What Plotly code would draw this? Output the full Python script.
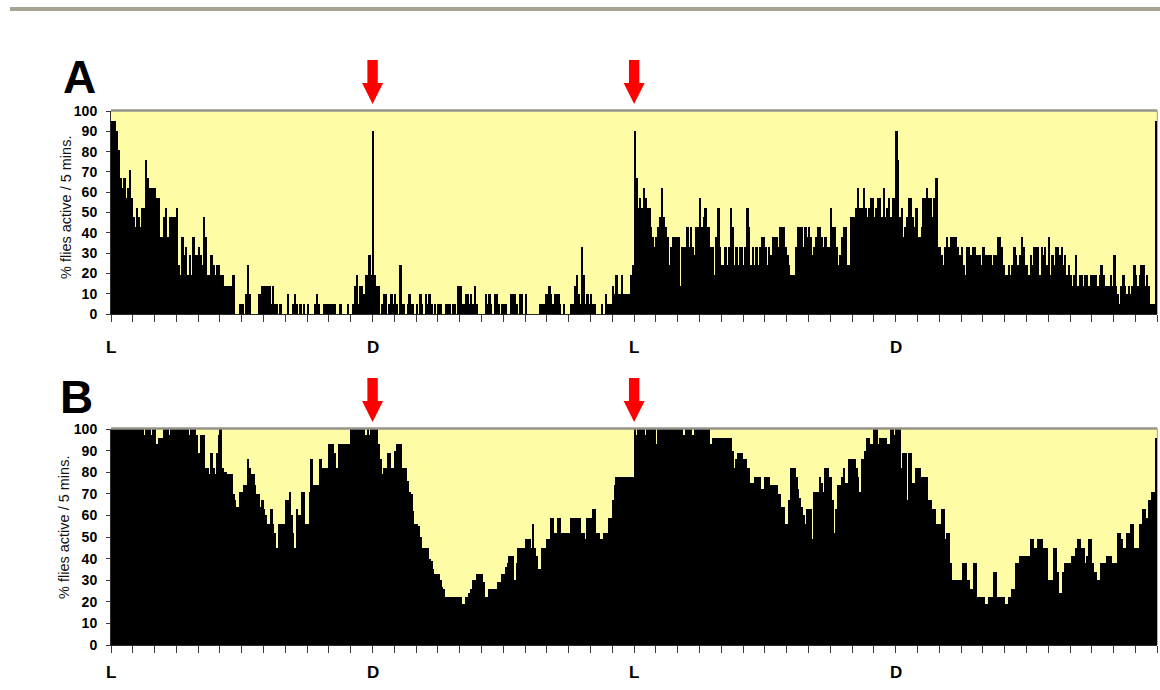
import plotly.graph_objects as go

# ---------------- data (percent of flies active per 5-min bin; 12 bins per hour, 48 h) -------------
activity_a = [
    95, 95, 95, 90, 81, 67, 62, 67, 57, 62, 71, 57,   # h0  (L)
    48, 43, 52, 48, 43, 52, 52, 76, 67, 62, 62, 62,
    62, 57, 57, 38, 38, 48, 52, 38, 48, 48, 48, 48,
    52, 24, 19, 38, 29, 33, 19, 29, 19, 38, 29, 29,
    33, 29, 24, 48, 38, 19, 19, 29, 24, 19, 24, 24,
    19, 19, 14, 14, 14, 14, 14, 19, 0, 0, 0, 5,
    5, 0, 10, 24, 10, 0, 0, 0, 0, 10, 10, 14,
    14, 14, 14, 14, 5, 14, 5, 5, 0, 5, 0, 0,
    0, 10, 0, 0, 5, 10, 5, 0, 5, 0, 5, 0,
    5, 0, 0, 0, 5, 10, 5, 0, 0, 5, 5, 5,
    5, 5, 5, 5, 0, 0, 5, 0, 0, 0, 5, 0,
    0, 5, 14, 19, 5, 14, 14, 10, 19, 19, 29, 19,
    90, 19, 14, 14, 0, 5, 10, 10, 0, 5, 10, 5,       # h12 (D)
    10, 5, 0, 24, 5, 5, 0, 5, 10, 5, 5, 0,
    5, 0, 10, 5, 0, 10, 5, 10, 5, 0, 5, 0,
    5, 5, 0, 0, 5, 5, 5, 0, 5, 5, 0, 14,
    14, 5, 5, 10, 10, 5, 10, 5, 14, 5, 0, 0,
    0, 0, 10, 5, 10, 5, 0, 10, 10, 5, 0, 5,
    5, 5, 0, 0, 10, 10, 10, 5, 0, 10, 10, 0,
    10, 0, 0, 0, 0, 0, 0, 0, 5, 5, 5, 10,
    10, 14, 10, 5, 10, 10, 10, 5, 0, 5, 0, 0,
    0, 5, 5, 14, 19, 10, 5, 33, 19, 5, 10, 5,
    10, 5, 5, 0, 0, 0, 5, 0, 10, 5, 5, 5,
    14, 10, 19, 10, 10, 19, 10, 10, 10, 10, 19, 24,
    90, 67, 52, 57, 52, 62, 57, 52, 52, 43, 38, 33,  # h24 (L)
    38, 43, 48, 62, 48, 43, 38, 24, 33, 38, 38, 38,
    38, 14, 33, 33, 33, 43, 33, 43, 33, 29, 43, 43,
    57, 43, 48, 52, 43, 43, 33, 33, 19, 38, 52, 33,
    24, 24, 33, 24, 33, 52, 43, 24, 33, 24, 33, 33,
    24, 33, 52, 43, 24, 33, 24, 33, 24, 33, 38, 38,
    33, 24, 33, 29, 38, 38, 38, 33, 43, 43, 43, 33,
    29, 24, 19, 19, 19, 33, 43, 43, 43, 33, 43, 38,
    43, 38, 29, 33, 38, 43, 43, 38, 33, 38, 33, 33,
    52, 43, 43, 33, 24, 29, 38, 43, 43, 24, 24, 48,
    48, 48, 52, 62, 52, 52, 62, 52, 48, 52, 57, 57,
    48, 52, 57, 57, 48, 62, 48, 52, 57, 48, 57, 57,
    90, 76, 48, 52, 38, 43, 48, 57, 57, 48, 43, 52,  # h36 (D)
    38, 38, 43, 57, 57, 62, 57, 57, 48, 57, 67, 33,
    33, 29, 24, 33, 38, 33, 38, 38, 38, 38, 33, 29,
    33, 24, 19, 33, 33, 29, 33, 33, 29, 29, 29, 24,
    33, 29, 29, 29, 29, 24, 29, 29, 38, 38, 33, 24,
    19, 19, 24, 19, 24, 33, 29, 24, 29, 38, 33, 24,
    24, 19, 29, 24, 33, 33, 33, 19, 33, 29, 33, 24,
    38, 19, 29, 24, 33, 33, 29, 33, 24, 29, 19, 24,
    19, 14, 19, 29, 14, 19, 19, 14, 19, 19, 14, 19,
    19, 19, 19, 14, 19, 24, 19, 14, 14, 14, 19, 14,
    29, 14, 10, 5, 14, 19, 14, 10, 14, 10, 14, 24,
    19, 14, 19, 24, 24, 14, 19, 14, 5, 5, 5, 95,
]

activity_b = [
    100, 100, 100, 100, 100, 100, 100, 100, 100, 100, 100, 100,  # h0 (L)
    100, 100, 100, 100, 100, 100, 97, 100, 100, 100, 97, 100,
    100, 93, 96, 96, 96, 100, 100, 100, 97, 100, 100, 100,
    100, 100, 100, 100, 100, 100, 100, 97, 100, 100, 100, 97,
    89, 97, 97, 97, 82, 82, 79, 89, 82, 79, 89, 97,
    100, 82, 80, 80, 79, 79, 79, 70, 67, 64, 64, 71,
    71, 74, 74, 86, 82, 79, 79, 74, 70, 70, 64, 67,
    63, 60, 56, 56, 63, 56, 52, 45, 56, 56, 56, 56,
    67, 67, 71, 60, 52, 45, 63, 60, 60, 71, 71, 56,
    56, 71, 86, 74, 74, 74, 74, 86, 82, 82, 82, 82,
    93, 93, 93, 89, 82, 93, 93, 93, 93, 93, 93, 93,
    100, 100, 100, 100, 100, 100, 100, 100, 97, 100, 97, 100,
    100, 100, 100, 93, 86, 79, 82, 82, 89, 89, 82, 82,           # h12 (D)
    90, 93, 93, 93, 82, 82, 82, 76, 71, 70, 62, 56,
    56, 55, 50, 45, 45, 45, 45, 40, 39, 35, 33, 33,
    33, 30, 27, 26, 22, 22, 22, 22, 22, 22, 22, 22,
    22, 19, 19, 22, 22, 24, 26, 30, 30, 33, 33, 33,
    33, 29, 22, 22, 26, 26, 26, 26, 26, 29, 29, 33,
    33, 36, 38, 41, 41, 41, 30, 38, 45, 45, 45, 45,
    49, 49, 49, 45, 56, 45, 41, 35, 35, 45, 45, 45,
    49, 49, 59, 59, 52, 52, 59, 59, 52, 52, 52, 52,
    52, 59, 59, 59, 59, 59, 59, 52, 52, 49, 59, 59,
    59, 63, 63, 52, 52, 49, 49, 52, 52, 52, 59, 59,
    67, 74, 78, 78, 78, 78, 78, 78, 78, 78, 78, 78,
    100, 97, 100, 100, 100, 100, 97, 100, 100, 100, 100, 100,    # h24 (L)
    93, 100, 100, 100, 100, 100, 100, 100, 100, 100, 100, 100,
    100, 100, 100, 97, 100, 100, 100, 100, 97, 100, 100, 100,
    100, 100, 100, 100, 100, 100, 93, 96, 96, 96, 96, 96,
    96, 96, 96, 96, 96, 96, 90, 82, 86, 89, 89, 89,
    86, 86, 82, 82, 75, 75, 78, 78, 78, 78, 72, 72,
    78, 78, 78, 74, 74, 74, 74, 70, 70, 64, 64, 56,
    56, 67, 82, 82, 82, 78, 72, 68, 64, 60, 56, 63,
    63, 63, 49, 71, 71, 71, 78, 75, 71, 82, 82, 78,
    78, 67, 52, 63, 74, 74, 78, 82, 75, 75, 86, 86,
    86, 86, 82, 78, 71, 86, 86, 90, 96, 96, 93, 93,
    100, 100, 93, 96, 96, 96, 96, 93, 93, 100, 100, 97,
    100, 100, 100, 82, 89, 89, 67, 89, 89, 75, 75, 82,           # h36 (D)
    82, 82, 78, 78, 78, 78, 67, 67, 63, 63, 56, 56,
    56, 63, 63, 49, 52, 52, 38, 30, 30, 30, 30, 30,
    30, 38, 38, 30, 30, 26, 26, 38, 38, 22, 22, 22,
    22, 19, 19, 22, 22, 22, 34, 34, 22, 22, 22, 22,
    19, 19, 22, 22, 26, 26, 38, 38, 41, 41, 41, 41,
    41, 41, 49, 49, 45, 45, 49, 49, 49, 45, 45, 45,
    30, 30, 30, 45, 45, 34, 24, 24, 34, 38, 38, 38,
    38, 41, 41, 45, 49, 49, 45, 45, 38, 41, 49, 49,
    38, 34, 34, 30, 30, 38, 38, 38, 41, 41, 41, 38,
    38, 38, 52, 52, 49, 45, 45, 52, 52, 56, 56, 45,
    45, 45, 56, 56, 63, 63, 59, 67, 67, 71, 71, 96,
]

bins_per_hour = 12
n_hours = 48
hour_ticks = list(range(0, n_hours * bins_per_hour + 1, bins_per_hour))
y_ticks = list(range(0, 101, 10))
phase_labels = ["L", "D", "L", "D"]
phase_bins = [0, 144, 288, 432]
arrow_bins = [144, 288]
panel_labels = ["A", "B"]
y_title = "% flies active / 5 mins."

# ---------------- figure ----------------
W, H = 1160, 690
FONT = "Liberation Sans, Arial, Helvetica, sans-serif"
x_dom = [111 / W, 1157.3 / W]


def py(pix):
    return (H - pix) / H


panels = [
    dict(data=activity_a, xa="x", ya="y", top=111, bot=314, arrow_tip=104, lab_y=347,
         letter=(79, 76.5), ytitle_y=208, ytitle_x=66),
    dict(data=activity_b, xa="x2", ya="y2", top=429, bot=645, arrow_tip=422, lab_y=672,
         letter=(76, 397), ytitle_y=528, ytitle_x=64),
]

fig = go.Figure()
shapes = []
annotations = []

for i, p in enumerate(panels):
    vals = p["data"]
    centers = [k + 0.5 for k in range(len(vals))]
    fig.add_trace(go.Bar(
        x=centers, y=vals, width=1.0,
        marker=dict(color="black", line=dict(width=0)),
        xaxis=p["xa"], yaxis=p["ya"], showlegend=False,
        hovertemplate="%{y}%<extra></extra>",
    ))
    sfx = "" if i == 0 else "2"
    fig.layout["xaxis" + sfx] = dict(
        domain=x_dom, range=[0, n_hours * bins_per_hour], anchor="y" + sfx,
        tickmode="array", tickvals=hour_ticks, ticks="outside", ticklen=7,
        tickwidth=1, tickcolor="#3a3a3a", showticklabels=False,
        showline=True, linecolor="#2a2a2a", linewidth=1,
        showgrid=False, zeroline=False, fixedrange=True, automargin=False,
    )
    fig.layout["yaxis" + sfx] = dict(
        domain=[py(p["bot"]), py(p["top"])], range=[0, 100], anchor="x" + sfx,
        tickmode="array", tickvals=y_ticks, ticks="outside", ticklen=4,
        tickwidth=1, tickcolor="#3a3a3a", ticklabelstandoff=6,
        tickfont=dict(family=FONT, size=14, color="black", weight="bold"),
        showline=True, linecolor="#2a2a2a", linewidth=1,
        showgrid=False, zeroline=False, fixedrange=True, automargin=False,
    )
    # gray frame on top and right of plot area
    shapes.append(dict(type="line", xref="paper", yref="paper",
                       x0=x_dom[0], x1=x_dom[1], y0=py(p["top"]) + 0.5 / H, y1=py(p["top"]) + 0.5 / H,
                       line=dict(color="#94948a", width=2.5), layer="above"))
    shapes.append(dict(type="line", xref="paper", yref="paper",
                       x0=x_dom[1], x1=x_dom[1], y0=py(p["bot"]), y1=py(p["top"]),
                       line=dict(color="#9a9a90", width=1), layer="below"))
    # red arrows
    for b in arrow_bins:
        shapes.append(dict(
            type="path", xref=p["xa"], yref="paper",
            xsizemode="pixel", ysizemode="pixel",
            xanchor=b, yanchor=py(p["arrow_tip"]),
            path="M 0,0 L -10.5,21 L -5.2,21 L -5.2,44 L 5.2,44 L 5.2,21 L 10.5,21 Z",
            fillcolor="#ff0000", line=dict(width=0), layer="above",
        ))
    # L / D labels
    for lab, b in zip(phase_labels, phase_bins):
        annotations.append(dict(
            x=b, y=py(p["lab_y"]), xref=p["xa"], yref="paper", text=lab,
            showarrow=False, xanchor="center", yanchor="middle",
            font=dict(family=FONT, size=17, color="black", weight="bold"),
        ))
    # panel letter
    annotations.append(dict(
        x=p["letter"][0] / W, y=py(p["letter"][1]), xref="paper", yref="paper",
        text=panel_labels[i], showarrow=False, xanchor="center", yanchor="middle",
        font=dict(family=FONT, size=46, color="black", weight="bold"),
    ))
    # y axis title
    annotations.append(dict(
        x=p["ytitle_x"] / W, y=py(p["ytitle_y"]), xref="paper", yref="paper",
        text=y_title, textangle=-90, showarrow=False,
        xanchor="center", yanchor="middle",
        font=dict(family=FONT, size=14.5, color="#111111"),
    ))

# top decorative gray band
shapes.append(dict(type="rect", xref="paper", yref="paper",
                   x0=10 / W, x1=1.0, y0=py(11), y1=py(7),
                   fillcolor="#a8a392", line=dict(width=0)))

fig.update_layout(
    width=W, height=H, margin=dict(l=0, r=0, t=0, b=0, pad=0, autoexpand=False),
    paper_bgcolor="white", plot_bgcolor="#fffca6",
    bargap=0, barmode="overlay",
    shapes=shapes, annotations=annotations,
    showlegend=False,
)

fig.write_html(
    "out.html",
    config={"displayModeBar": False},
    post_script="document.body.style.margin='0px';document.body.style.overflow='hidden';",
)
